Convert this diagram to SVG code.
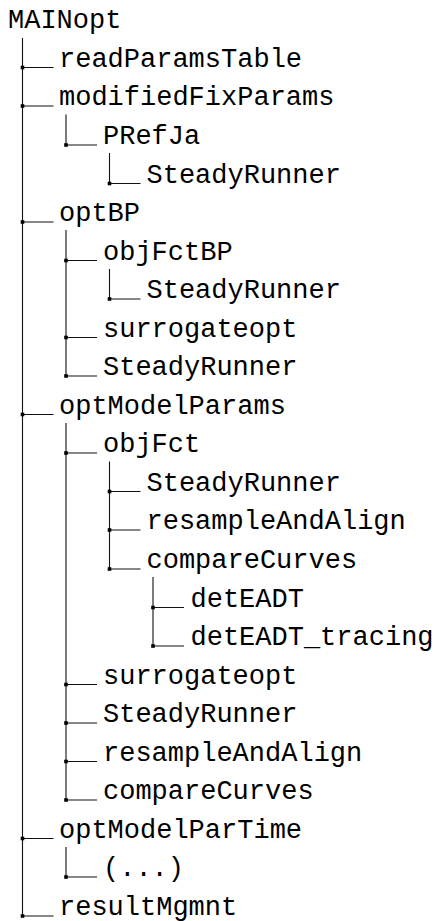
<svg xmlns="http://www.w3.org/2000/svg" width="435" height="921" viewBox="0 0 435 921">
<style>
text{font-family:"Liberation Mono","DejaVu Sans Mono",monospace;font-size:27px;fill:#000}
.v,.h{stroke:#111;stroke-width:1.1;fill:none}
.sq{fill:#000}
</style>
<defs><rect id="sq" x="-1.8" y="-1.8" width="3.6" height="3.6" class="sq"/></defs>
<rect width="435" height="921" fill="#fff"/>
<g id="connectors">
<path class="v" d="M22.5 38V916M66 114.5V145M109.5 153V183.5M66 230V376M109.5 269V299M66 423V800M109.5 461.5V569M153 577V646M66 847V877"/>
<path class="h" d="M22.5 67.5h31M22.5 106h31M66 145h31M109.5 183.5h31M22.5 222h31M66 260.5h31M109.5 299h31M66 337.5h31M66 376h31M22.5 414.5h31M66 453h31M109.5 491.5h31M109.5 530h31M109.5 569h31M153 607.5h31M153 646h31M66 684.5h31M66 723h31M66 761.5h31M66 800h31M22.5 838.5h31M66 877h31M22.5 916h31"/>
<use href="#sq" x="22.5" y="67.5"/><use href="#sq" x="22.5" y="106"/><use href="#sq" x="66" y="145"/><use href="#sq" x="109.5" y="183.5"/><use href="#sq" x="22.5" y="222"/><use href="#sq" x="66" y="260.5"/><use href="#sq" x="109.5" y="299"/><use href="#sq" x="66" y="337.5"/><use href="#sq" x="66" y="376"/><use href="#sq" x="22.5" y="414.5"/><use href="#sq" x="66" y="453"/><use href="#sq" x="109.5" y="491.5"/><use href="#sq" x="109.5" y="530"/><use href="#sq" x="109.5" y="569"/><use href="#sq" x="153" y="607.5"/><use href="#sq" x="153" y="646"/><use href="#sq" x="66" y="684.5"/><use href="#sq" x="66" y="723"/><use href="#sq" x="66" y="761.5"/><use href="#sq" x="66" y="800"/><use href="#sq" x="22.5" y="838.5"/><use href="#sq" x="66" y="877"/><use href="#sq" x="22.5" y="916"/>
</g>
<g id="n0"><text x="8" y="28">MAINopt</text></g>
<g id="n1"><text x="59" y="66.5">readParamsTable</text></g>
<g id="n2"><text x="59" y="105">modifiedFixParams</text></g>
<g id="n3"><text x="103" y="144">PRefJa</text></g>
<g id="n4"><text x="146.5" y="182.5">SteadyRunner</text></g>
<g id="n5"><text x="59" y="221">optBP</text></g>
<g id="n6"><text x="103" y="259.5">objFctBP</text></g>
<g id="n7"><text x="146.5" y="298">SteadyRunner</text></g>
<g id="n8"><text x="103" y="336.5">surrogateopt</text></g>
<g id="n9"><text x="103" y="375">SteadyRunner</text></g>
<g id="n10"><text x="59" y="413.5">optModelParams</text></g>
<g id="n11"><text x="103" y="452">objFct</text></g>
<g id="n12"><text x="146.5" y="490.5">SteadyRunner</text></g>
<g id="n13"><text x="146.5" y="529">resampleAndAlign</text></g>
<g id="n14"><text x="146.5" y="568">compareCurves</text></g>
<g id="n15"><text x="190.5" y="606.5">detEADT</text></g>
<g id="n16"><text x="190.5" y="645">detEADT_tracing</text></g>
<g id="n17"><text x="103" y="683.5">surrogateopt</text></g>
<g id="n18"><text x="103" y="722">SteadyRunner</text></g>
<g id="n19"><text x="103" y="760.5">resampleAndAlign</text></g>
<g id="n20"><text x="103" y="799">compareCurves</text></g>
<g id="n21"><text x="59" y="837.5">optModelParTime</text></g>
<g id="n22"><text x="103" y="876">(...)</text></g>
<g id="n23"><text x="59" y="914.5">resultMgmnt</text></g>
</svg>
